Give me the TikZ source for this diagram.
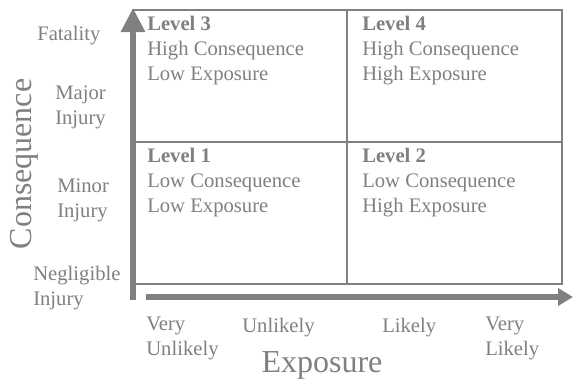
\documentclass[tikz,border=0pt]{standalone}
\usepackage{fontspec}
\setmainfont{Liberation Serif}
\usetikzlibrary{arrows.meta}
\definecolor{riskgray}{HTML}{808080}
\begin{document}
\begin{tikzpicture}[x=0.75pt,y=-0.75pt,
    every node/.style={inner sep=0pt,text=riskgray},
    lbl/.style={anchor=base west,align=left,font=\fontsize{15.5}{18.75}\selectfont},
    big/.style={anchor=base,font=\fontsize{24}{28}\selectfont},
    gridline/.style={draw=riskgray,line width=1.2pt},
    axis/.style={draw=riskgray,line width=4.5pt}]
  \useasboundingbox (0,0) rectangle (573,382);
  \coordinate (nw) at (133,10);
  \coordinate (se) at (562,284);
  \coordinate (mid) at (347,142);
  \coordinate (ybot) at (133,300);
  \coordinate (ytop) at (133,8);
  \coordinate (xl) at (146,297);
  \coordinate (xr) at (573,297);

  \draw[gridline] (nw) rectangle (se);
  \draw[gridline] (mid |- nw) -- (mid |- se);
  \draw[gridline] (nw |- mid) -- (se |- mid);
  \draw[axis,-{Triangle[length=18pt,width=17.25pt]}] (ybot) -- (ytop);
  \draw[axis,-{Triangle[length=11.25pt,width=12.75pt]}] (xl) -- (xr);

  \node[lbl] (lv3) at (147,80) {\textbf{Level 3}\\High Consequence\\Low Exposure};
  \node[lbl] (lv4) at (362,80) {\textbf{Level 4}\\High Consequence\\High Exposure};
  \node[lbl] (lv1) at (147,212) {\textbf{Level 1}\\Low Consequence\\Low Exposure};
  \node[lbl] (lv2) at (362,212) {\textbf{Level 2}\\Low Consequence\\High Exposure};

  \node[lbl] (fat) at (37,40) {Fatality};
  \node[lbl] (maj) at (55,124) {Major\\Injury};
  \node[lbl] (mnr) at (57,217) {Minor\\Injury};
  \node[lbl] (neg) at (33,305) {Negligible\\Injury};

  \node[lbl] (vu) at (146,355) {Very\\Unlikely};
  \node[lbl] (un) at (242,332) {Unlikely};
  \node[lbl] (li) at (382,332) {Likely};
  \node[lbl] (vl) at (485,355) {Very\\Likely};

  \node[big,rotate=90] (cons) at (31,164) {Consequence};
  \node[big] (expo) at (322,372) {Exposure};
\end{tikzpicture}
\end{document}
